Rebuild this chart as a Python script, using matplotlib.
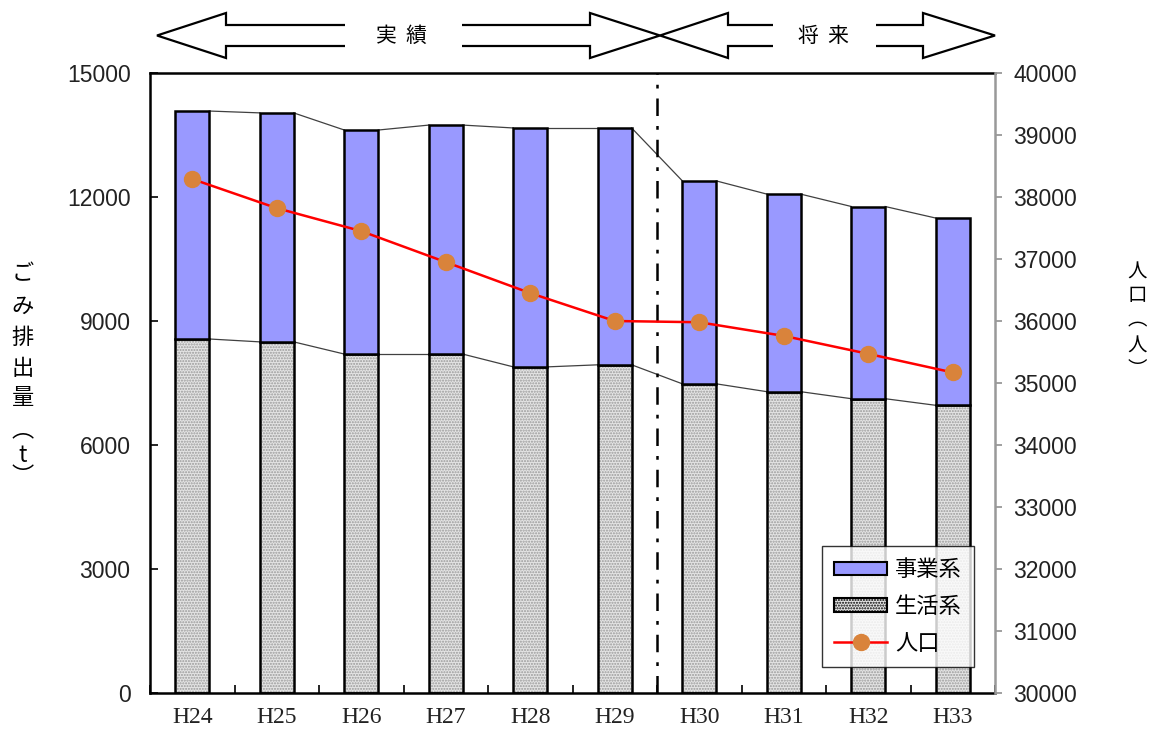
import numpy as np
import matplotlib
matplotlib.use('Agg')
import matplotlib.pyplot as plt
from matplotlib.patches import Polygon, Patch
from matplotlib.lines import Line2D

plt.rcParams['font.family'] = ['Noto Sans CJK JP', 'DejaVu Sans']
plt.rcParams['hatch.linewidth'] = 1.0

years = ['H24', 'H25', 'H26', 'H27', 'H28', 'H29', 'H30', 'H31', 'H32', 'H33']
household = [8565, 8495, 8200, 8200, 7890, 7940, 7480, 7290, 7120, 6960]   # 生活系 (t)
business = [5515, 5540, 5420, 5540, 5780, 5730, 4910, 4780, 4650, 4530]   # 事業系 (t)
population = [38290, 37820, 37450, 36950, 36450, 36000, 35980, 35760, 35470, 35170]
n_actual = 6  # H24..H29 are actual, the rest are projections

num_font = 'Liberation Sans'

W, H = 1154, 735
fig = plt.figure(figsize=(W / 100, H / 100), dpi=100)
ax = fig.add_axes([150 / W, 1 - 693 / H, 845 / W, 620 / H])

x = np.arange(len(years))
bw = 0.4
household = np.asarray(household)
business = np.asarray(business)
total = household + business

# stacked bars, hatch drawn first then a black outline on top
ax.bar(x, household, bw, color='#e4e4e4', edgecolor='#9a9a9a', hatch='......', linewidth=0, zorder=2)
ax.bar(x, household, bw, facecolor='none', edgecolor='black', linewidth=1.8, zorder=3)
ax.bar(x, business, bw, bottom=household, color='#9999ff', edgecolor='black', linewidth=1.8, zorder=3)

# series lines between bars
for i in range(len(x) - 1):
    ax.plot([x[i] + bw / 2, x[i + 1] - bw / 2], [total[i], total[i + 1]], color='#404040', lw=0.9, zorder=1)
    ax.plot([x[i] + bw / 2, x[i + 1] - bw / 2], [household[i], household[i + 1]], color='#404040', lw=0.9, zorder=1)

ax.set_xlim(-0.5, len(years) - 0.5)
ax.set_ylim(0, 15000)
ax.set_yticks(np.arange(0, 15001, 3000))
ax.tick_params(axis='y', direction='in', length=6, width=1.2, pad=14, labelsize=16.5, labelcolor='#222222')
for lab in ax.get_yticklabels():
    lab.set_fontfamily(num_font)

ax.set_xticks(np.arange(-0.5, len(years), 1.0))
ax.set_xticklabels([])
ax.set_xticks(x, minor=True)
ax.set_xticklabels(years, minor=True, fontfamily='Liberation Serif', fontsize=17, color='#222222')
ax.tick_params(axis='x', which='major', direction='in', length=6, width=1.2)
ax.tick_params(axis='x', which='minor', length=0, pad=10)

for s in ['left', 'bottom', 'top']:
    ax.spines[s].set_linewidth(1.8)
ax.spines['right'].set_visible(False)

# divider between actual and projected years
ax.axvline(n_actual - 0.5, color='black', lw=1.8, linestyle=(0, (7, 4, 1.5, 4)), zorder=4)

ax2 = ax.twinx()
ax2.plot(x, population, color='red', lw=1.8, marker='o', markersize=11.5,
         markerfacecolor='#d9833b', markeredgecolor='#d9833b', zorder=5)
ax2.set_ylim(30000, 40000)
ax2.set_yticks(np.arange(30000, 40001, 1000))
ax2.tick_params(axis='y', direction='out', length=5, width=1.2, color='#909090', pad=8,
                labelsize=16.5, labelcolor='#222222')
for lab in ax2.get_yticklabels():
    lab.set_fontfamily(num_font)
for s in ['left', 'bottom', 'top']:
    ax2.spines[s].set_visible(False)
ax2.spines['right'].set_color('#999999')
ax2.spines['right'].set_linewidth(1.8)


def vertical_label(chars, xc, ys, size):
    for ch, yc in zip(chars, ys):
        fig.text(xc / W, 1 - yc / H, ch, ha='center', va='center', fontsize=size)


vertical_label(['ご', 'み', '排', '出', '量', '︵', 't', '︶'], 23,
               [274, 306, 337, 368, 398, 430, 455, 477], 16)
vertical_label(['人', '口', '︵', '人', '︶'], 1137, [272, 296, 320, 346, 369], 14)


def block_arrow(x_tail, x_base, x_tip, yc=35.5, head=22.5, shaft=10.5):
    # open-ended block arrow in pixel coordinates
    pts = [(x_tail, yc - shaft), (x_base, yc - shaft), (x_base, yc - head), (x_tip, yc),
           (x_base, yc + head), (x_base, yc + shaft), (x_tail, yc + shaft)]
    pts = [(px / W, 1 - py / H) for px, py in pts]
    fig.add_artist(Polygon(pts, closed=False, fill=False, edgecolor='black', lw=1.6))


block_arrow(345, 226, 157)
block_arrow(462, 590, 660)
block_arrow(773, 728, 660)
block_arrow(876, 923, 995)
fig.text(402 / W, 1 - 36 / H, '実  績', ha='center', va='center', fontsize=15)
fig.text(824 / W, 1 - 36 / H, '将  来', ha='center', va='center', fontsize=15)

handles = [
    Patch(facecolor='#9999ff', edgecolor='black', linewidth=1.5),
    Patch(facecolor='#e4e4e4', edgecolor='black', hatch='......', linewidth=1.5),
    Line2D([], [], color='red', lw=1.8, marker='o', markersize=11.5,
           markerfacecolor='#d9833b', markeredgecolor='#d9833b'),
]
leg = ax2.legend(handles, ['事業系', '生活系', '人口'], loc='lower right',
                 bbox_to_anchor=(974 / W, 1 - 667 / H), bbox_transform=fig.transFigure,
                 borderaxespad=0, fontsize=16, frameon=True, fancybox=False, edgecolor='black',
                 handlelength=2.4, handleheight=0.55, labelspacing=0.62, borderpad=0.55,
                 handletextpad=0.35)
leg.get_frame().set_linewidth(1.0)

fig.savefig('out.png', dpi=100)
